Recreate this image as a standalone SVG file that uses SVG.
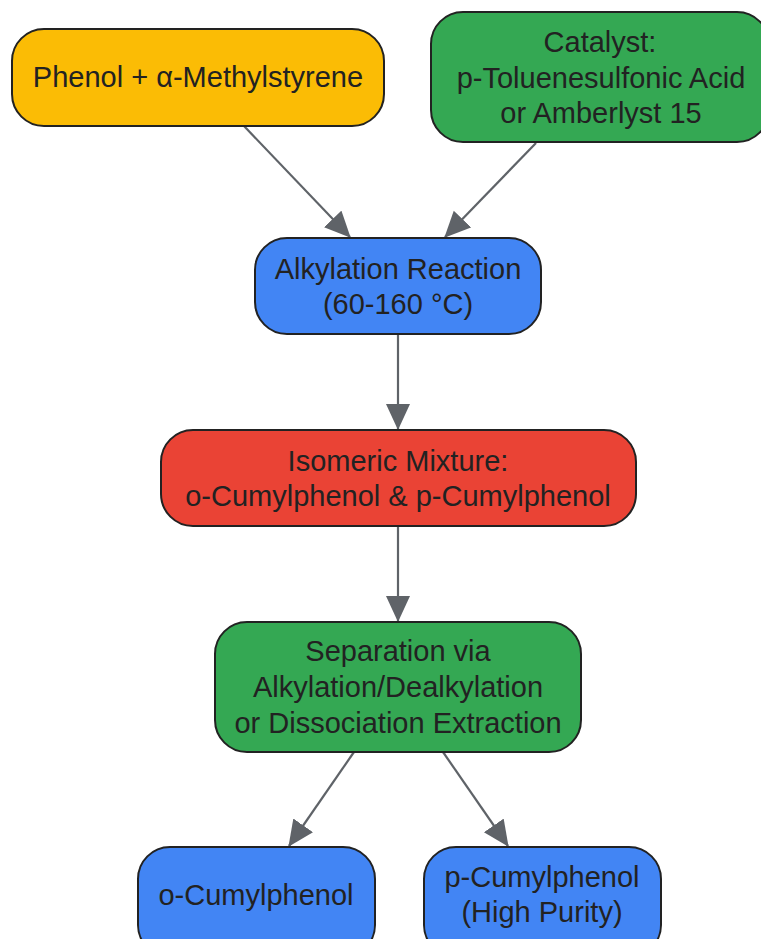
<svg xmlns="http://www.w3.org/2000/svg" width="761" height="939" viewBox="0 0 761 939">
<defs>
<style>
.n{stroke:#222;stroke-width:2}
.t{font-family:"Liberation Sans",Arial,sans-serif;font-size:29px;fill:#222;text-anchor:middle}
.e{stroke:#5f6368;stroke-width:2.2;fill:none}
</style>
<marker id="a" markerWidth="28" markerHeight="26" refX="25" refY="12" orient="auto" markerUnits="userSpaceOnUse">
<path d="M0,0 L26,12 L0,24 Z" fill="#5f6368"/>
</marker>
</defs>
<rect width="761" height="939" fill="#fff"/>
<g id="edges">
<line class="e" x1="244" y1="126" x2="350" y2="237" marker-end="url(#a)"/>
<line class="e" x1="536" y1="143" x2="445" y2="237" marker-end="url(#a)"/>
<line class="e" x1="398" y1="334" x2="398" y2="429" marker-end="url(#a)"/>
<line class="e" x1="398" y1="526" x2="398" y2="621" marker-end="url(#a)"/>
<line class="e" x1="354" y1="752" x2="289" y2="846" marker-end="url(#a)"/>
<line class="e" x1="443" y1="752" x2="508" y2="846" marker-end="url(#a)"/>
</g>
<g id="phenol">
<rect class="n" x="12" y="29" width="372" height="97" rx="32" fill="#FBBC05"/>
<text class="t" x="198" y="87">Phenol + α-Methylstyrene</text>
</g>
<g id="catalyst">
<rect class="n" x="431" y="12" width="338" height="130" rx="32" fill="#34A853"/>
<text class="t" x="600" y="52">Catalyst:</text>
<text class="t" x="601" y="88">p-Toluenesulfonic Acid</text>
<text class="t" x="601" y="123">or Amberlyst 15</text>
</g>
<g id="alkylation">
<rect class="n" x="255" y="238" width="286" height="96" rx="32" fill="#4285F4"/>
<text class="t" x="398" y="279">Alkylation Reaction</text>
<text class="t" x="398" y="314">(60-160 °C)</text>
</g>
<g id="mixture">
<rect class="n" x="161" y="430" width="475" height="96" rx="32" fill="#EA4335"/>
<text class="t" x="398" y="471">Isomeric Mixture:</text>
<text class="t" x="398" y="506">o-Cumylphenol &amp; p-Cumylphenol</text>
</g>
<g id="separation">
<rect class="n" x="215" y="622" width="366" height="130" rx="32" fill="#34A853"/>
<text class="t" x="398" y="661">Separation via</text>
<text class="t" x="398" y="697">Alkylation/Dealkylation</text>
<text class="t" x="398" y="733">or Dissociation Extraction</text>
</g>
<g id="ocumyl">
<rect class="n" x="138" y="847" width="237" height="110" rx="32" fill="#4285F4"/>
<text class="t" x="256" y="905">o-Cumylphenol</text>
</g>
<g id="pcumyl">
<rect class="n" x="424" y="847" width="237" height="110" rx="32" fill="#4285F4"/>
<text class="t" x="542" y="887">p-Cumylphenol</text>
<text class="t" x="542" y="922">(High Purity)</text>
</g>
</svg>
